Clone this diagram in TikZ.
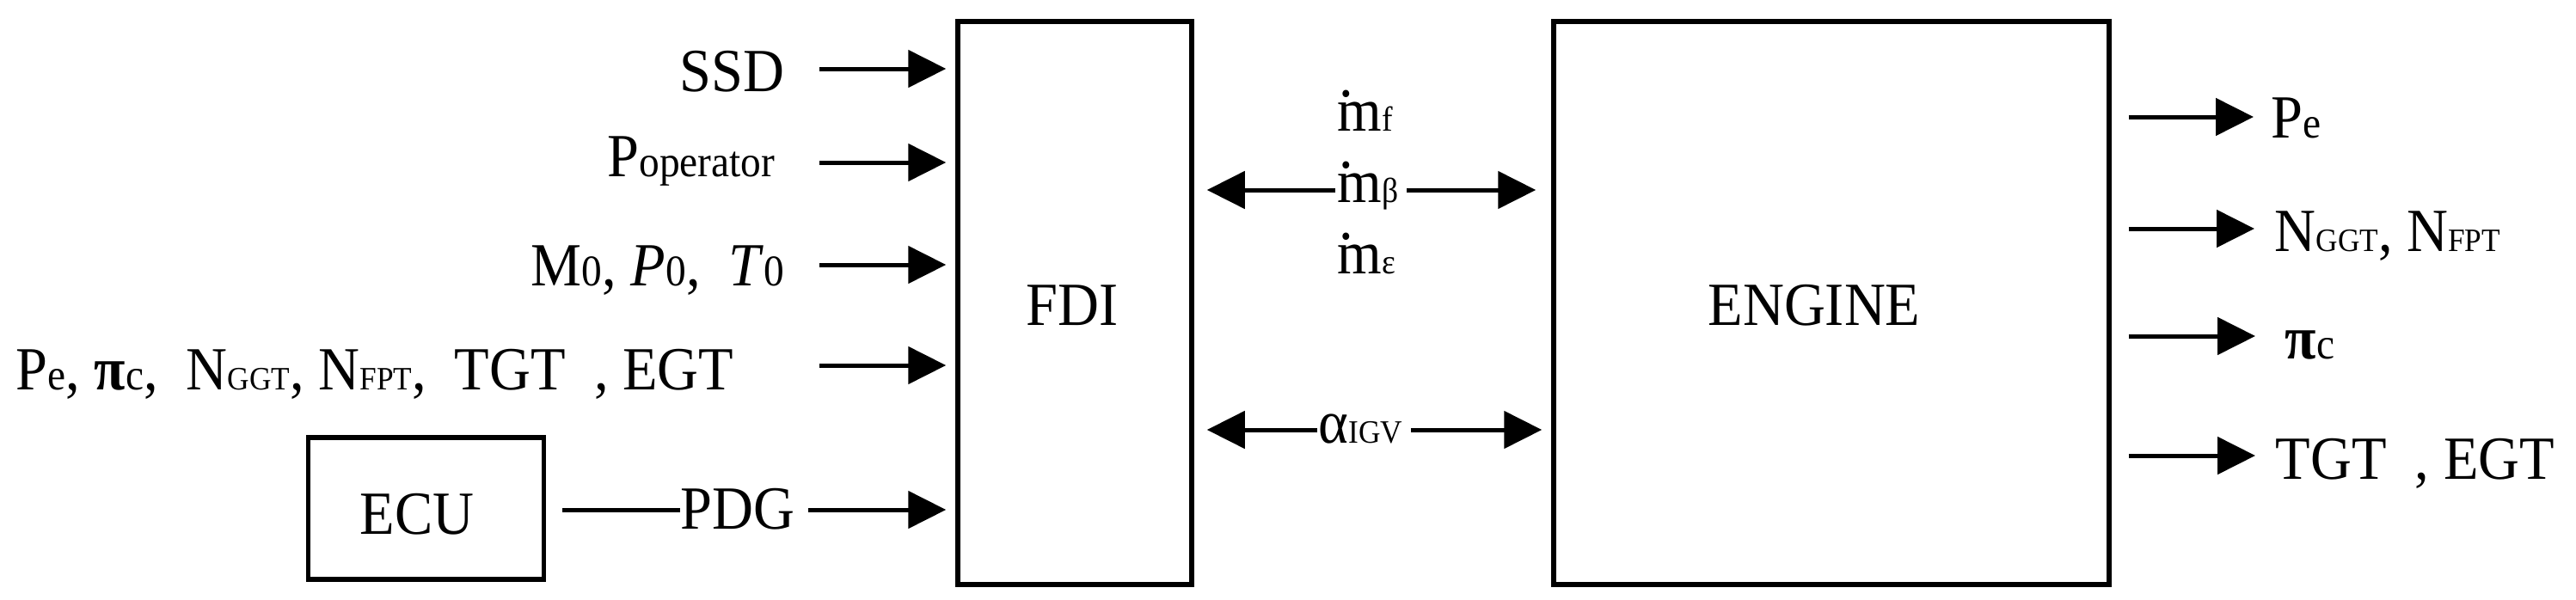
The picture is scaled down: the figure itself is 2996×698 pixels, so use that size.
\documentclass[tikz,border=0pt]{standalone}
\usepackage{fontspec}
\setmainfont{Liberation Serif}[FakeStretch=0.93]
\usetikzlibrary{arrows.meta}
\newcommand{\sbs}[1]{{\fontsize{14.5}{14.5}\selectfont #1}}
\newcommand{\sbg}[1]{{\fontsize{11.5}{11.5}\selectfont #1}}
\newcommand{\sbc}[1]{{\fontsize{10.8}{10.8}\selectfont #1}}
\newcommand{\mdot}{\rlap{\kern0.03em\raisebox{1.22ex}{.}}m}
\begin{document}
\begin{tikzpicture}[x=0.1mm,y=-0.1mm,
  font=\fontsize{20.3}{22}\selectfont,
  box/.style={draw, line width=0.55mm, inner sep=0pt},
  arr/.style={line width=0.5mm, -{Triangle[length=4.4mm,width=4.3mm]}},
  plain/.style={line width=0.5mm},
  lbl/.style={inner sep=0pt}]
\useasboundingbox (0,0) rectangle (2996,698);

% boxes
\node[box, minimum width=27.2mm, minimum height=65.5mm] (fdi) at (1250,352.5) {};
\node[box, minimum width=64.6mm, minimum height=65.5mm] (eng) at (2130,352.5) {};
\node[box, minimum width=27.4mm, minimum height=16.5mm] (ecu) at (495.5,591.5) {};

% box texts
\node[lbl, anchor=base] (fditxt) at (1247,378) {FDI};
\node[lbl, anchor=base] (engtxt) at (2110,378) {ENGINE};
\node[lbl, anchor=base] (ecutxt) at (485,621) {ECU};

% left input labels
\node[lbl, anchor=base east] (ssd) at (913,107) {SSD};
\node[lbl, anchor=base east] (pop) at (902,205) {P\sbs{operator}};
\node[lbl, anchor=base east] (amb) at (913,332) {M\sbs{0}, \textit{P}\sbs{0}, \ \textit{T}\sbs{0}};
\node[lbl, anchor=base east] (meas) at (854,453) {P\sbs{e}, \textbf{π}\sbs{c}, \ N\sbc{GGT}, N\sbc{FPT}, \ TGT \ , EGT};
\node[lbl, anchor=base west] (pdg) at (791,615) {PDG};

% input arrow start points
\coordinate (i1) at (953,80);
\coordinate (i2) at (953,189);
\coordinate (i3) at (953,308);
\coordinate (i4) at (953,425);
\coordinate (p) at (0,593);

\draw[arr, shorten >=1.1mm] (i1) -- (i1 -| fdi.west);
\draw[arr, shorten >=1.1mm] (i2) -- (i2 -| fdi.west);
\draw[arr, shorten >=1.1mm] (i3) -- (i3 -| fdi.west);
\draw[arr, shorten >=1.1mm] (i4) -- (i4 -| fdi.west);
\draw[plain, shorten <=1.9mm] (ecu.east |- p) -- (pdg.west |- p);
\draw[arr, shorten <=1.5mm, shorten >=1.1mm] (pdg.east |- p) -- (fdi.west |- p);

% middle labels
\node[lbl, anchor=base west] (mf) at (1555,152) {\mdot\sbg{f}};
\node[lbl, anchor=base west, inner xsep=0.2mm] (mb) at (1553,235) {\mdot\sbg{β}};
\node[lbl, anchor=base west] (me) at (1555,318) {\mdot\sbg{ε}};
\node[lbl, anchor=base west, inner xsep=0.1mm] (aigv) at (1532,515) {α\sbc{IGV}};

\coordinate (ya) at (0,221);
\coordinate (yb) at (0,500);
\draw[arr, shorten >=1.5mm] (mb.west |- ya) -- (fdi.east |- ya);
\draw[arr, shorten <=0.7mm, shorten >=1.8mm] (mb.east |- ya) -- (eng.west |- ya);
\draw[arr, shorten >=1.5mm] (aigv.west |- yb) -- (fdi.east |- yb);
\draw[arr, shorten <=0.8mm, shorten >=1.1mm] (aigv.east |- yb) -- (eng.west |- yb);

% right outputs
\coordinate (o1) at (2621,136);
\coordinate (o2) at (2622,266);
\coordinate (o3) at (2623,391);
\coordinate (o4) at (2623,530);
\draw[arr, shorten <=2mm] (eng.east |- o1) -- (o1);
\draw[arr, shorten <=2mm] (eng.east |- o2) -- (o2);
\draw[arr, shorten <=2mm] (eng.east |- o3) -- (o3);
\draw[arr, shorten <=2mm] (eng.east |- o4) -- (o4);

\node[lbl, anchor=base west] (rpe) at (2641,160) {P\sbs{e}};
\node[lbl, anchor=base west] (rn) at (2645,292) {N\sbc{GGT}, N\sbc{FPT}};
\node[lbl, anchor=base west] (rpi) at (2657,417) {\textbf{π}\sbs{c}};
\node[lbl, anchor=base west] (rt) at (2646,557) {TGT \ , EGT};
\end{tikzpicture}
\end{document}
